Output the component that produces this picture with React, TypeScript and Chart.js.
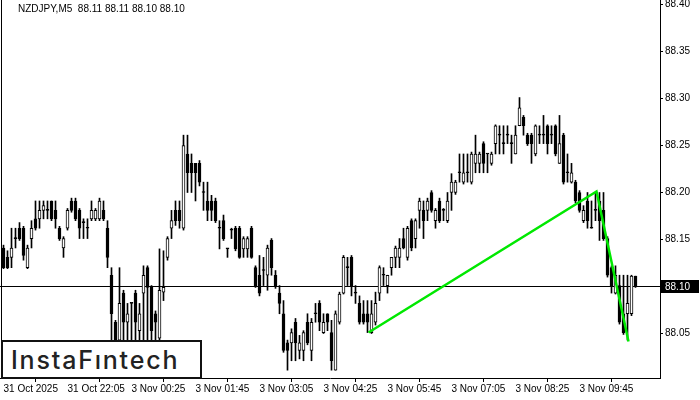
import React, { useEffect, useRef } from 'react';
import { Chart, registerables } from 'chart.js';

Chart.register(...registerables);

const symbolTitle = 'NZDJPY,M5  88.11 88.11 88.10 88.10';
const logoText = 'InstaFıntech';
const tickIndexes = [0, 16, 32, 48, 64, 80, 96, 112, 128, 144];
const tickLabels = ['31 Oct 2025', '31 Oct 22:05', '3 Nov 00:25', '3 Nov 01:45', '3 Nov 03:05', '3 Nov 04:25', '3 Nov 05:45', '3 Nov 07:05', '3 Nov 08:25', '3 Nov 09:45'];
const priceTicks = [88.05, 88.15, 88.2, 88.25, 88.3, 88.35, 88.4];
const currentPrice = 88.1;
const patternX = [91.25, 148.25, 156.25];
const patternY = [88.051, 88.201, 88.0415];

const opens = [
  88.141, 88.131, 88.131, 88.151, 88.162, 88.162, 88.120, 88.151, 88.172, 88.172,
  88.181, 88.181, 88.191, 88.181, 88.162, 88.141, 88.162, 88.191, 88.191, 88.181,
  88.168, 88.162, 88.172, 88.172, 88.172, 88.181, 88.162, 88.112, 88.062, 88.043,
  88.093, 88.062, 88.082, 88.093, 88.053, 88.093, 88.120, 88.099, 88.071, 88.045,
  88.094, 88.131, 88.162, 88.181, 88.181, 88.162, 88.241, 88.231, 88.231, 88.231,
  88.200, 88.191, 88.191, 88.191, 88.162, 88.170, 88.140, 88.160, 88.162, 88.162,
  88.140, 88.140, 88.162, 88.120, 88.112, 88.117, 88.112, 88.149, 88.112, 88.093,
  88.071, 88.040, 88.040, 88.062, 88.032, 88.032, 88.062, 88.032, 88.071, 88.082,
  88.051, 88.071, 88.051, 88.011, 88.062, 88.093, 88.120, 88.131, 88.093, 88.082,
  88.071, 88.071, 88.051, 88.062, 88.093, 88.112, 88.101, 88.120, 88.131, 88.131,
  88.151, 88.131, 88.170, 88.151, 88.181, 88.181, 88.181, 88.200, 88.170, 88.191,
  88.181, 88.170, 88.200, 88.200, 88.221, 88.211, 88.221, 88.211, 88.231, 88.231,
  88.252, 88.241, 88.231, 88.252, 88.261, 88.252, 88.261, 88.252, 88.241, 88.271,
  88.280, 88.261, 88.261, 88.241, 88.261, 88.261, 88.271, 88.261, 88.271, 88.231,
  88.261, 88.221, 88.211, 88.211, 88.200, 88.170, 88.191, 88.162, 88.181, 88.191,
  88.181, 88.151, 88.120, 88.093, 88.101, 88.071, 88.071, 88.071, 88.111
];
const highs = [
  88.144, 88.138, 88.162, 88.162, 88.168, 88.164, 88.144, 88.170, 88.191, 88.191,
  88.191, 88.191, 88.191, 88.191, 88.164, 88.153, 88.183, 88.194, 88.194, 88.183,
  88.172, 88.172, 88.191, 88.183, 88.194, 88.191, 88.170, 88.120, 88.064, 88.120,
  88.096, 88.082, 88.082, 88.096, 88.082, 88.122, 88.122, 88.101, 88.074, 88.140,
  88.138, 88.153, 88.181, 88.191, 88.191, 88.261, 88.261, 88.241, 88.231, 88.234,
  88.211, 88.211, 88.197, 88.194, 88.170, 88.176, 88.140, 88.162, 88.164, 88.164,
  88.153, 88.153, 88.164, 88.122, 88.133, 88.131, 88.144, 88.151, 88.117, 88.101,
  88.085, 88.043, 88.055, 88.066, 88.048, 88.053, 88.071, 88.066, 88.082, 88.085,
  88.071, 88.071, 88.064, 88.074, 88.094, 88.133, 88.131, 88.133, 88.101, 88.090,
  88.085, 88.085, 88.085, 88.094, 88.122, 88.120, 88.112, 88.131, 88.143, 88.151,
  88.162, 88.164, 88.172, 88.172, 88.194, 88.191, 88.194, 88.202, 88.183, 88.194,
  88.183, 88.200, 88.220, 88.213, 88.241, 88.241, 88.241, 88.243, 88.261, 88.243,
  88.254, 88.241, 88.243, 88.272, 88.271, 88.271, 88.271, 88.261, 88.271, 88.301,
  88.282, 88.263, 88.263, 88.272, 88.271, 88.282, 88.272, 88.271, 88.272, 88.282,
  88.263, 88.241, 88.231, 88.213, 88.202, 88.186, 88.200, 88.191, 88.200, 88.200,
  88.200, 88.153, 88.122, 88.122, 88.112, 88.112, 88.112, 88.112, 88.111
];
const lows = [
  88.119, 88.119, 88.120, 88.141, 88.149, 88.128, 88.119, 88.141, 88.160, 88.162,
  88.172, 88.172, 88.170, 88.162, 88.149, 88.131, 88.160, 88.179, 88.170, 88.151,
  88.151, 88.151, 88.170, 88.170, 88.170, 88.170, 88.120, 88.043, 88.021, 88.032,
  88.037, 88.037, 88.043, 88.043, 88.032, 88.037, 88.037, 88.032, 88.037, 88.037,
  88.085, 88.128, 88.151, 88.165, 88.162, 88.160, 88.200, 88.200, 88.191, 88.207,
  88.181, 88.170, 88.170, 88.168, 88.140, 88.149, 88.131, 88.151, 88.138, 88.130,
  88.131, 88.131, 88.130, 88.099, 88.090, 88.101, 88.096, 88.112, 88.098, 88.071,
  88.030, 88.011, 88.021, 88.021, 88.023, 88.021, 88.038, 88.021, 88.062, 88.053,
  88.050, 88.053, 88.011, 88.011, 88.060, 88.092, 88.101, 88.090, 88.082, 88.060,
  88.060, 88.051, 88.050, 88.059, 88.085, 88.101, 88.093, 88.112, 88.120, 88.120,
  88.140, 88.128, 88.138, 88.141, 88.162, 88.151, 88.170, 88.179, 88.162, 88.168,
  88.170, 88.168, 88.181, 88.198, 88.211, 88.209, 88.211, 88.209, 88.221, 88.221,
  88.221, 88.221, 88.229, 88.241, 88.241, 88.241, 88.252, 88.231, 88.241, 88.271,
  88.261, 88.250, 88.231, 88.239, 88.252, 88.252, 88.241, 88.252, 88.239, 88.231,
  88.209, 88.211, 88.210, 88.189, 88.179, 88.168, 88.162, 88.162, 88.170, 88.149,
  88.149, 88.110, 88.093, 88.092, 88.060, 88.049, 88.043, 88.069, 88.099
];
const closes = [
  88.120, 88.120, 88.141, 88.151, 88.151, 88.133, 88.141, 88.162, 88.162, 88.181,
  88.186, 88.181, 88.172, 88.172, 88.151, 88.151, 88.181, 88.181, 88.172, 88.162,
  88.168, 88.162, 88.181, 88.181, 88.191, 88.172, 88.131, 88.071, 88.043, 88.082,
  88.062, 88.071, 88.082, 88.062, 88.071, 88.112, 88.099, 88.053, 88.062, 88.096,
  88.099, 88.151, 88.170, 88.170, 88.170, 88.250, 88.221, 88.221, 88.221, 88.211,
  88.200, 88.181, 88.181, 88.170, 88.162, 88.151, 88.140, 88.160, 88.140, 88.131,
  88.151, 88.151, 88.131, 88.101, 88.093, 88.117, 88.141, 88.120, 88.101, 88.082,
  88.032, 88.032, 88.051, 88.040, 88.040, 88.051, 88.040, 88.062, 88.071, 88.062,
  88.062, 88.062, 88.021, 88.071, 88.092, 88.131, 88.120, 88.101, 88.093, 88.062,
  88.062, 88.062, 88.071, 88.082, 88.120, 88.112, 88.112, 88.131, 88.141, 88.141,
  88.141, 88.162, 88.141, 88.170, 88.191, 88.170, 88.191, 88.181, 88.181, 88.170,
  88.181, 88.191, 88.211, 88.211, 88.221, 88.221, 88.221, 88.241, 88.241, 88.241,
  88.231, 88.241, 88.241, 88.271, 88.261, 88.252, 88.261, 88.252, 88.261, 88.290,
  88.271, 88.252, 88.252, 88.271, 88.261, 88.261, 88.252, 88.261, 88.241, 88.252,
  88.211, 88.221, 88.221, 88.191, 88.181, 88.181, 88.170, 88.162, 88.181, 88.170,
  88.151, 88.112, 88.101, 88.112, 88.062, 88.051, 88.082, 88.111, 88.100
];

const X_MIN = -0.875;
const X_MAX = 164.125;
const Y_MAX = 88.40479;
const Y_MIN = 88.00266;

const FONT = '"Liberation Sans", Arial, sans-serif';

const framePlugin = {
  id: 'mtFrame',
  afterDraw(chart: any) {
    const { ctx, chartArea, scales } = chart;
    ctx.save();
    ctx.strokeStyle = '#000';
    ctx.lineWidth = 1;
    ctx.beginPath();
    ctx.moveTo(chartArea.left + 1.5, chartArea.top);
    ctx.lineTo(chartArea.left + 1.5, chartArea.bottom);
    ctx.stroke();
    const y = scales.y.getPixelForValue(currentPrice);
    ctx.fillStyle = '#000';
    ctx.fillRect(chartArea.right + 1, Math.floor(y) - 6, 38, 13);
    ctx.fillStyle = '#fff';
    ctx.font = '10px ' + FONT;
    ctx.textBaseline = 'middle';
    ctx.textAlign = 'left';
    ctx.fillText(currentPrice.toFixed(2), chartArea.right + 5, y + 0.5);
    ctx.restore();
  },
};

export default function App() {
  const canvasRef = useRef<HTMLCanvasElement | null>(null);

  useEffect(() => {
    const canvas = canvasRef.current;
    if (!canvas) return;
    const idx = opens.map((_, i) => i);
    const wickData = idx.map((i) => ({ x: i, y: [lows[i], highs[i]] }));
    const bodyData = idx.map((i) => ({ x: i, y: [Math.min(opens[i], closes[i]), Math.max(opens[i], closes[i])] }));
    const bodyColors = idx.map((i) => (closes[i] > opens[i] ? '#ffffff' : '#000000'));

    const chart = new Chart(canvas, {
      type: 'bar',
      data: {
        datasets: [
          {
            type: 'line',
            data: [{ x: X_MIN, y: currentPrice }, { x: X_MAX, y: currentPrice }],
            borderColor: '#000',
            borderWidth: 1,
            pointRadius: 0,
            order: 4,
          } as any,
          {
            type: 'bar',
            data: wickData as any,
            backgroundColor: '#000',
            borderWidth: 0,
            barThickness: 1,
            grouped: false,
            order: 3,
          } as any,
          {
            type: 'bar',
            data: bodyData as any,
            backgroundColor: bodyColors,
            borderColor: '#000',
            borderWidth: 1,
            borderSkipped: false,
            barThickness: 3,
            minBarLength: 1,
            grouped: false,
            order: 2,
          } as any,
          {
            type: 'line',
            data: patternX.map((x, i) => ({ x, y: patternY[i] })),
            borderColor: '#00e800',
            borderWidth: 2.5,
            pointRadius: 0,
            tension: 0,
            order: 1,
          } as any,
        ],
      },
      options: {
        animation: false,
        responsive: false,
        maintainAspectRatio: false,
        events: [],
        layout: { padding: 0 },
        plugins: { legend: { display: false }, tooltip: { enabled: false }, title: { display: false } },
        scales: {
          x: {
            type: 'linear',
            min: X_MIN,
            max: X_MAX,
            offset: false,
            position: 'bottom',
            afterFit: (s: any) => { s.height = 22; s.paddingLeft = 0; s.paddingRight = 0; },
            afterBuildTicks: (s: any) => { s.ticks = tickIndexes.map((v) => ({ value: v })); },
            grid: { drawOnChartArea: false, drawTicks: true, tickLength: 4, color: '#000' },
            border: { display: true, color: '#000', width: 1 },
            ticks: {
              autoSkip: false,
              maxRotation: 0,
              minRotation: 0,
              align: 'start',
              padding: 1,
              color: '#000',
              font: { family: FONT, size: 10 },
              callback: (v: any) => {
                const k = tickIndexes.indexOf(Number(v));
                return k >= 0 ? tickLabels[k] : '';
              },
            },
          },
          y: {
            type: 'linear',
            position: 'right',
            min: Y_MIN,
            max: Y_MAX,
            afterFit: (s: any) => { s.width = 40; s.paddingTop = 0; s.paddingBottom = 0; },
            afterBuildTicks: (s: any) => { s.ticks = priceTicks.map((v) => ({ value: v })); },
            grid: { drawOnChartArea: false, drawTicks: true, tickLength: 3, color: '#000' },
            border: { display: true, color: '#000', width: 1 },
            ticks: {
              padding: 2,
              color: '#000',
              font: { family: FONT, size: 10 },
              callback: (v: any) => Number(v).toFixed(2),
            },
          },
        },
      },
      plugins: [framePlugin],
    } as any);
    return () => chart.destroy();
  }, []);

  return (
    <div style={{ position: 'fixed', left: 0, top: 0, width: 700, height: 400, background: '#fff', overflow: 'hidden' }}>
      <canvas ref={canvasRef} width={700} height={400} style={{ position: 'absolute', left: 0, top: 0, width: 700, height: 400 }} />
      <div style={{ position: 'absolute', left: 18, top: 3, font: '10px ' + FONT, color: '#000', whiteSpace: 'pre', lineHeight: '12px' }}>
        {symbolTitle}
      </div>
      <div
        style={{
          position: 'absolute', left: 1, top: 340, width: 201, height: 39, boxSizing: 'border-box',
          border: '2px solid #111', background: '#fff', display: 'flex', alignItems: 'center',
          paddingLeft: 8, font: '500 25px Inter, "Open Sans", sans-serif', letterSpacing: '1.8px', color: '#222', whiteSpace: 'pre',
        }}
      >
        {logoText}
      </div>
    </div>
  );
}
